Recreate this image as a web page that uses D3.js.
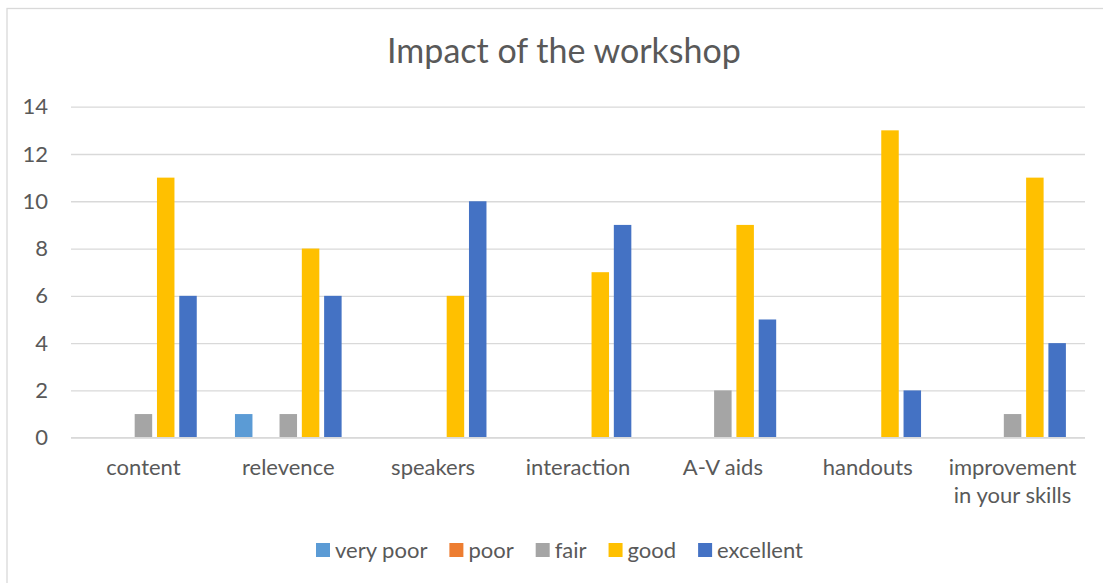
<!DOCTYPE html>
<html>
<head>
<meta charset="utf-8">
<script src="https://cdn.jsdelivr.net/npm/d3@7"></script>
<style>
  body { margin: 0; background: #fff; }
  svg text { font-family: Lato, "Open Sans", sans-serif; fill: #595959; }
</style>
</head>
<body>
<div id="chart"></div>
<script>
const categories = ["content", "relevence", "speakers", "interaction", "A-V aids", "handouts", "improvement in your skills"];
const categoryLines = [["content"], ["relevence"], ["speakers"], ["interaction"], ["A-V aids"], ["handouts"], ["improvement", "in your skills"]];
const series = ["very poor", "poor", "fair", "good", "excellent"];
const veryPoor = [0, 1, 0, 0, 0, 0, 0];
const poor = [0, 0, 0, 0, 0, 0, 0];
const fair = [1, 1, 0, 0, 2, 0, 1];
const good = [11, 8, 6, 7, 9, 13, 11];
const excellent = [6, 6, 10, 9, 5, 2, 4];
const yTicks = [0, 2, 4, 6, 8, 10, 12, 14];
const colors = ["#5B9BD5", "#ED7D31", "#A5A5A5", "#FFC000", "#4472C4"];

const values = [veryPoor, poor, fair, good, excellent];
const data = categories.map((c, i) => ({
  category: c,
  lines: categoryLines[i],
  bars: series.map((s, j) => ({ key: s, value: values[j][i], color: colors[j] }))
}));

const W = 1103, H = 583;
const plot = { left: 71, right: 1085, top: 106.7, bottom: 437.7 };

const svg = d3.select("#chart")
  .append("svg")
  .attr("width", W)
  .attr("height", H);

// chart frame
svg.append("rect")
  .attr("x", 7)
  .attr("y", 8.5)
  .attr("width", W + 10)
  .attr("height", H + 10)
  .attr("fill", "#fff")
  .attr("stroke", "#d9d9d9")
  .attr("stroke-width", 1.3);

svg.append("text")
  .attr("x", 564)
  .attr("y", 63)
  .attr("text-anchor", "middle")
  .style("font-size", "34px")
  .text("Impact of the workshop");

const x0 = d3.scaleBand()
  .domain(categories)
  .range([plot.left, plot.right]);

const x1 = d3.scaleBand()
  .domain(series)
  .range([0, x0.bandwidth()])
  .paddingInner(0.215)
  .paddingOuter(0.857);

const y = d3.scaleLinear()
  .domain([0, 14])
  .range([plot.bottom, plot.top]);

// gridlines
const yAxis = d3.axisLeft(y)
  .tickValues(yTicks)
  .tickSize(-(plot.right - plot.left))
  .tickPadding(23);

const yg = svg.append("g")
  .attr("transform", `translate(${plot.left},0)`)
  .call(yAxis);
yg.select(".domain").remove();
yg.selectAll(".tick line").attr("stroke", "#d9d9d9").attr("stroke-width", 1.3);
yg.selectAll(".tick text")
  .style("font-size", "22px")
  .attr("fill", "#595959");

// bars
const groups = svg.selectAll(".group")
  .data(data)
  .enter()
  .append("g")
  .attr("class", "group")
  .attr("transform", d => `translate(${x0(d.category)},0)`);

groups.selectAll("rect")
  .data(d => d.bars)
  .enter()
  .append("rect")
  .attr("x", d => x1(d.key))
  .attr("width", x1.bandwidth())
  .attr("y", d => y(d.value))
  .attr("height", d => y(0) - y(d.value))
  .attr("fill", d => d.color);

// zero line on top
svg.append("line")
  .attr("x1", plot.left)
  .attr("x2", plot.right)
  .attr("y1", y(0))
  .attr("y2", y(0))
  .attr("stroke", "#d9d9d9")
  .attr("stroke-width", 1.3);

// category labels
const xg = svg.append("g");
xg.selectAll("text")
  .data(data)
  .enter()
  .append("text")
  .attr("x", d => x0(d.category) + x0.bandwidth() / 2)
  .attr("y", 475)
  .attr("text-anchor", "middle")
  .style("font-size", "22px")
  .each(function(d) {
    const t = d3.select(this);
    d.lines.forEach((line, i) => {
      t.append("tspan")
        .attr("x", x0(d.category) + x0.bandwidth() / 2)
        .attr("dy", i === 0 ? 0 : 28)
        .text(line);
    });
  });

// legend
const legend = svg.append("g").attr("transform", "translate(0,551)");
let lx = 316;
series.forEach((s, i) => {
  legend.append("rect")
    .attr("x", lx)
    .attr("y", -8)
    .attr("width", 14)
    .attr("height", 14)
    .attr("fill", colors[i]);
  const t = legend.append("text")
    .attr("x", lx + 19)
    .attr("y", 7)
    .style("font-size", "22px")
    .text(s);
  lx += 19 + t.node().getComputedTextLength() + 22;
});
</script>
</body>
</html>
